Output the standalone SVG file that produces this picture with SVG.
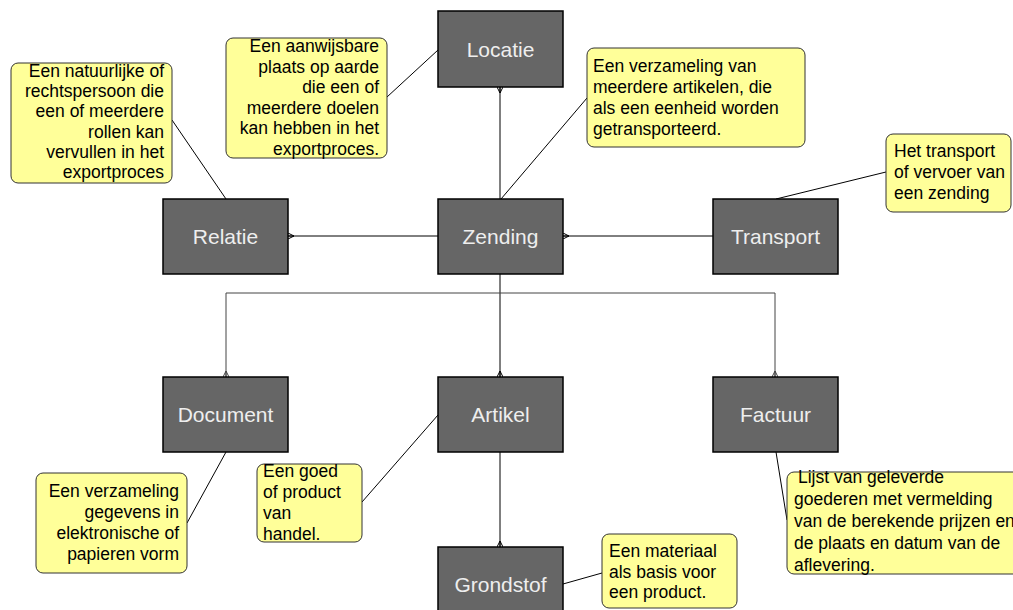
<svg xmlns="http://www.w3.org/2000/svg" width="1013" height="610" viewBox="0 0 1013 610">
<defs>
<marker id="many" viewBox="0 0 6 6" markerWidth="6" markerHeight="6" markerUnits="userSpaceOnUse" refX="6" refY="3" orient="auto">
<path d="M6,0 L0,3 L6,6 M0,3 L6,3" fill="none" stroke="#000" stroke-width="1"/>
</marker>
<marker id="manyg" viewBox="0 0 6 6" markerWidth="6" markerHeight="6" markerUnits="userSpaceOnUse" refX="6" refY="3" orient="auto">
<path d="M6,0 L0,3 L6,6 M0,3 L6,3" fill="none" stroke="#444" stroke-width="1"/>
</marker>
</defs>
<style>
.ent rect{fill:#666666;stroke:#000;stroke-width:1.5}
.ent text{font-family:"Liberation Sans",Arial,sans-serif;font-size:21px;fill:#eeeeee;text-anchor:middle}
.note rect{fill:#ffff99;stroke:#333;stroke-width:1}
.note text{font-family:"Liberation Sans",Arial,sans-serif;font-size:17.5px;fill:#000}
.r text{text-anchor:end}
.rel{fill:none;stroke:#000;stroke-width:1}
.relg{fill:none;stroke:#444;stroke-width:1}
.ann{fill:none;stroke:#000;stroke-width:1}
</style>
<rect width="1013" height="610" fill="#fff"/>
<g id="connectors">
<line class="rel" x1="500" y1="199" x2="500" y2="87" marker-end="url(#many)"/>
<line class="rel" x1="438" y1="236" x2="288" y2="236" marker-end="url(#many)"/>
<line class="rel" x1="713" y1="236" x2="563" y2="236" marker-end="url(#many)"/>
<line class="rel" x1="500" y1="274" x2="500" y2="377" marker-end="url(#many)"/>
<path class="relg" d="M500,293 H226 V377" marker-end="url(#manyg)"/>
<path class="relg" d="M500,293 H775 V377" marker-end="url(#manyg)"/>
<line class="rel" x1="500" y1="452" x2="500" y2="547" marker-end="url(#many)"/>
<line class="ann" x1="172" y1="120" x2="226" y2="199"/>
<line class="ann" x1="387" y1="97" x2="438" y2="50"/>
<line class="ann" x1="587" y1="98" x2="501" y2="199"/>
<line class="ann" x1="886" y1="172" x2="776" y2="199"/>
<line class="ann" x1="187" y1="523" x2="226" y2="452"/>
<line class="ann" x1="362" y1="502" x2="438" y2="415"/>
<line class="ann" x1="602" y1="573" x2="563" y2="584"/>
<line class="ann" x1="776" y1="452" x2="787" y2="520"/>
</g>
<g id="locatie" class="ent"><rect x="438" y="11" width="125" height="76"/><text x="500.5" y="56.5">Locatie</text></g>
<g id="relatie" class="ent"><rect x="163" y="199" width="125" height="75"/><text x="225.5" y="244">Relatie</text></g>
<g id="zending" class="ent"><rect x="438" y="199" width="125" height="75"/><text x="500.5" y="244">Zending</text></g>
<g id="transport" class="ent"><rect x="713" y="199" width="125" height="75"/><text x="775.5" y="244">Transport</text></g>
<g id="document" class="ent"><rect x="163" y="377" width="125" height="75"/><text x="225.5" y="422">Document</text></g>
<g id="artikel" class="ent"><rect x="438" y="377" width="125" height="75"/><text x="500.5" y="422">Artikel</text></g>
<g id="factuur" class="ent"><rect x="713" y="377" width="125" height="75"/><text x="775.5" y="422">Factuur</text></g>
<g id="grondstof" class="ent"><rect x="438" y="547" width="125" height="75"/><text x="500.5" y="592">Grondstof</text></g>
<g id="note-relatie" class="note r"><rect x="11" y="63" width="161" height="120" rx="7"/>
<text x="164" y="77">Een natuurlijke of</text><text x="164" y="97.2">rechtspersoon die</text><text x="164" y="117.4">een of meerdere</text><text x="164" y="137.6">rollen kan</text><text x="164" y="157.8">vervullen in het</text><text x="164" y="178">exportproces</text></g>
<g id="note-locatie" class="note r"><rect x="226" y="38" width="161" height="120" rx="7"/>
<text x="379" y="52">Een aanwijsbare</text><text x="379" y="72.6">plaats op aarde</text><text x="379" y="93.2">die een of</text><text x="379" y="113.8">meerdere doelen</text><text x="379" y="134.4">kan hebben in het</text><text x="379" y="155">exportproces.</text></g>
<g id="note-zending" class="note"><rect x="587" y="48" width="218" height="99" rx="7"/>
<text x="593" y="72">Een verzameling van</text><text x="593" y="93">meerdere artikelen, die</text><text x="593" y="114">als een eenheid worden</text><text x="593" y="135">getransporteerd.</text></g>
<g id="note-transport" class="note"><rect x="886" y="134" width="125" height="78" rx="7"/>
<text x="894" y="157">Het transport</text><text x="894" y="178">of vervoer van</text><text x="894" y="199">een zending</text></g>
<g id="note-document" class="note r"><rect x="36" y="473" width="151" height="100" rx="7"/>
<text x="179" y="497">Een verzameling</text><text x="179" y="518">gegevens in</text><text x="179" y="539">elektronische of</text><text x="179" y="560">papieren vorm</text></g>
<g id="note-artikel" class="note"><rect x="257" y="464" width="105" height="78" rx="7"/>
<text x="263" y="477">Een goed</text><text x="263" y="498">of product</text><text x="263" y="519">van</text><text x="263" y="540">handel.</text></g>
<g id="note-grondstof" class="note"><rect x="602" y="534" width="135" height="74" rx="7"/>
<text x="609" y="557">Een materiaal</text><text x="609" y="577.5">als basis voor</text><text x="609" y="598">een product.</text></g>
<g id="note-factuur" class="note"><rect x="787" y="472" width="240" height="102" rx="7"/>
<text x="798" y="483">Lijst van geleverde</text><text x="794" y="505">goederen met vermelding</text><text x="794" y="527">van de berekende prijzen en</text><text x="794" y="549">de plaats en datum van de</text><text x="794" y="571">aflevering.</text></g>
</svg>
